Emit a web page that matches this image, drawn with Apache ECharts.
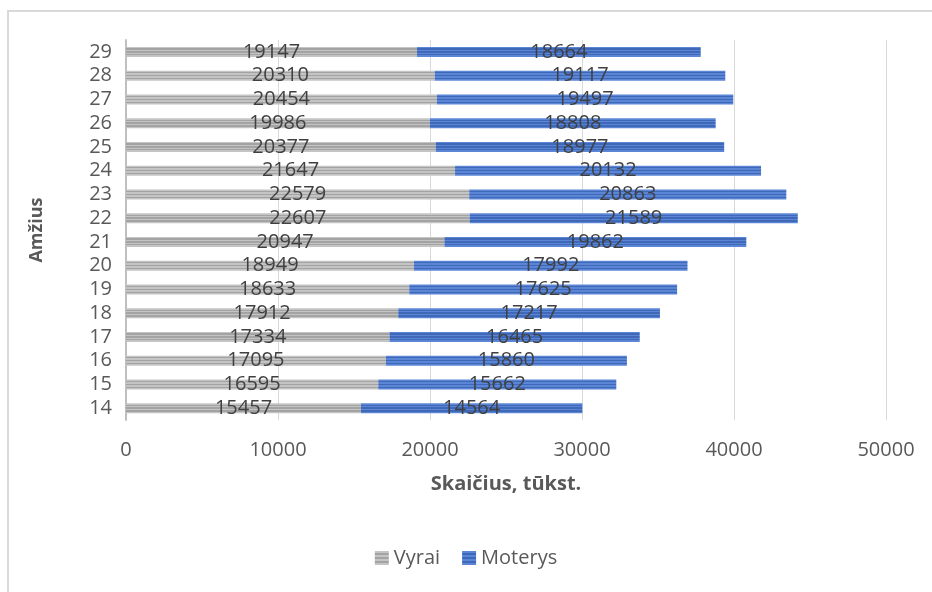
<!DOCTYPE html>
<html lang="lt" style="height: 100%">
<head>
    <meta charset="utf-8">
    <title>Amžius</title>
    <script src="https://cdn.jsdelivr.net/npm/echarts@6/dist/echarts.min.js"></script>
</head>
<body style="height: 100%; margin: 0; background: #fff">
    <div id="main" style="width: 932px; height: 592px"></div>
    <script>
        // duomenys
        const ages = ['14', '15', '16', '17', '18', '19', '20', '21', '22', '23', '24', '25', '26', '27', '28', '29'];
        const vyrai = [15457, 16595, 17095, 17334, 17912, 18633, 18949, 20947, 22607, 22579, 21647, 20377, 19986, 20454, 20310, 19147];
        const moterys = [14564, 15662, 15860, 16465, 17217, 17625, 17992, 19862, 21589, 20863, 20132, 18977, 18808, 19497, 19117, 18664];

        const FONT = 'Open Sans';

        // juostelės (imitacija Excel raštui)
        function stripes(light, dark) {
            const c = [light, dark, light, dark, light, dark, light];
            const stops = [];
            c.forEach((col, i) => {
                stops.push({ offset: i / c.length, color: col });
                stops.push({ offset: (i + 1) / c.length, color: col });
            });
            return new echarts.graphic.LinearGradient(0, 0, 0, 1, stops);
        }
        const grayFill = stripes('#c4c4c4', '#a3a3a3');
        const blueFill = stripes('#5b86d6', '#3f68b8');

        const myChart = echarts.init(document.getElementById('main'), null, { renderer: 'canvas' });

        const label = {
            show: true,
            position: 'inside',
            color: '#404040',
            fontFamily: FONT,
            fontSize: 20
        };

        myChart.setOption({
            animation: false,
            textStyle: { fontFamily: FONT },
            graphic: [{
                type: 'rect',
                shape: { x: 8, y: 11, width: 960, height: 620 },
                style: { fill: 'none', stroke: '#d9d9d9', lineWidth: 2 }
            }],
            grid: { left: 126, right: 46, top: 40, bottom: 172 },
            legend: {
                bottom: 19,
                left: 'center',
                icon: 'rect',
                itemWidth: 14,
                itemHeight: 14,
                itemGap: 22,
                textStyle: { color: '#595959', fontSize: 20, fontFamily: FONT },
                data: ['Vyrai', 'Moterys']
            },
            xAxis: {
                type: 'value',
                min: 0,
                max: 50000,
                interval: 10000,
                name: 'Skaičius, tūkst.',
                nameLocation: 'middle',
                nameGap: 54,
                nameTextStyle: { color: '#595959', fontSize: 20, fontWeight: 'bold', fontFamily: FONT },
                axisLine: { show: false },
                axisTick: { show: false },
                axisLabel: { color: '#595959', fontSize: 20, margin: 20, formatter: v => String(v) },
                splitLine: { lineStyle: { color: '#d9d9d9' } }
            },
            yAxis: {
                type: 'category',
                data: ages,
                name: 'Amžius',
                nameLocation: 'middle',
                nameRotate: 90,
                nameGap: 80,
                nameTextStyle: { color: '#595959', fontSize: 18, fontWeight: 'bold', fontFamily: FONT },
                axisLine: { lineStyle: { color: '#bfbfbf', width: 2 } },
                axisTick: { show: false },
                axisLabel: { color: '#595959', fontSize: 20, margin: 14, interval: 0 }
            },
            series: [{
                name: 'Vyrai',
                type: 'bar',
                stack: 'viso',
                barWidth: 10,
                itemStyle: { color: grayFill },
                label: label,
                data: vyrai
            }, {
                name: 'Moterys',
                type: 'bar',
                stack: 'viso',
                barWidth: 10,
                itemStyle: { color: blueFill },
                label: label,
                data: moterys
            }]
        });
    </script>
</body>
</html>
